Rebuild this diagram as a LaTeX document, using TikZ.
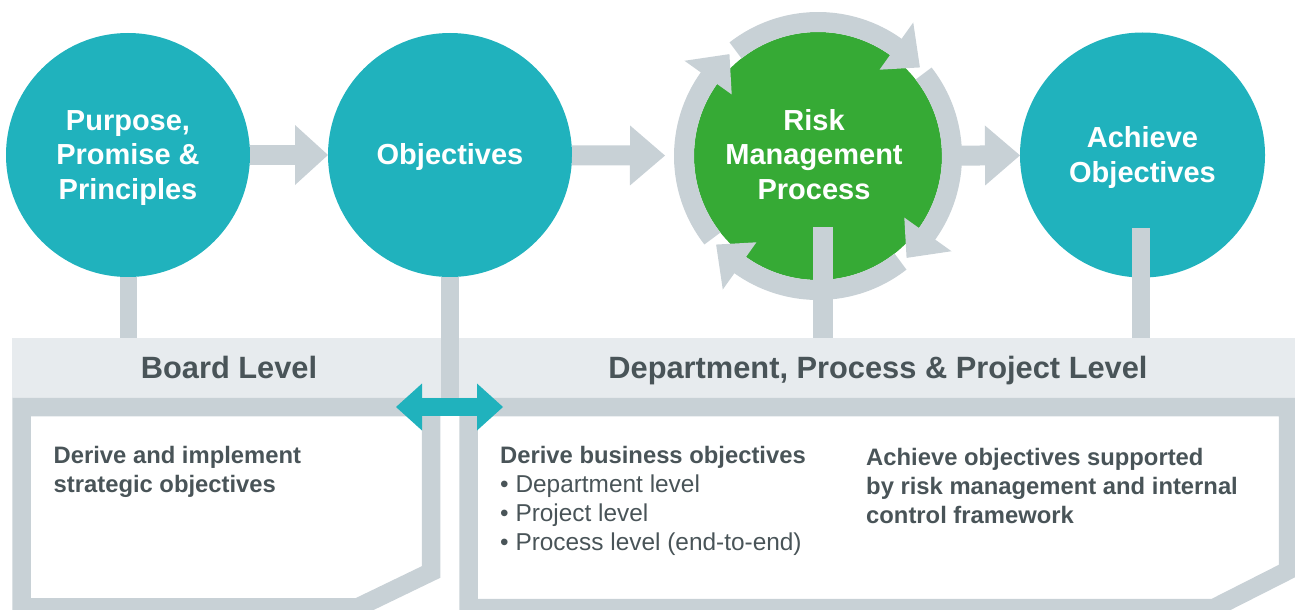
\documentclass[tikz,border=0pt]{standalone}
\usepackage{fontspec}
\setmainfont{Liberation Sans}
\usetikzlibrary{arrows.meta,calc}
\definecolor{tealc}{RGB}{32,178,189}
\definecolor{greenc}{RGB}{54,170,53}
\definecolor{grayc}{RGB}{200,209,214}
\definecolor{bandc}{RGB}{231,235,238}
\definecolor{textc}{RGB}{73,84,88}
\newcommand\mybulfont{\fontsize{24.4}{29}\selectfont}
\begin{document}
\begin{tikzpicture}[x=1pt,y=1pt,
  circ/.style={circle, minimum size=244pt, inner sep=0pt, outer sep=0pt, fill=tealc},
  circtext/.style={text=white, font=\bfseries\fontsize{29}{34.5}\selectfont, align=center, inner sep=0pt},
  conn/.style={grayc, line width=20pt, -{Triangle[length=33pt,width=60pt,line width=0pt]}},
  bar/.style={grayc, line width=18pt},
  framestyle/.style={grayc, line width=18.5pt, line join=miter},
  ringarc/.style={grayc, line width=20pt},
  bandlabel/.style={textc, font=\bfseries\fontsize{30.8}{36}\selectfont, anchor=base, inner sep=0pt},
  boxtext/.style={textc, font=\fontsize{23.8}{29}\selectfont, align=left, anchor=north west, inner sep=0pt},
]
\useasboundingbox (0,0) rectangle (1295,-610);

% band
\node[fill=bandc, anchor=north west, minimum width=1283pt, minimum height=60pt, inner sep=0pt, outer sep=0pt] (band) at (12,-338) {};

% frames
\draw[framestyle] (21.5,-407) -- (431,-407) -- (431,-572) -- (358,-607.25) -- (21.5,-607.25) -- cycle;
\draw[framestyle] (468.5,-407) -- (1288,-407) -- (1288,-570.5) -- (1214,-608) -- (468.5,-608) -- cycle;

% circles
\node[circ] (c1) at (128,-155) {};
\node[circ] (c2) at (450,-155) {};
\node[circ, fill=greenc, minimum size=248pt] (c3) at (818,-156) {};
\node[circ, minimum size=245pt] (c4) at (1142.5,-155) {};

% bars
\draw[bar, line width=17pt] (c1.south) -- (c1.south |- band.north);
\draw[bar] (c2.south) -- (c2.south |- band.south);
\draw[bar, line width=20pt] ($(c3.center)+(5,-71)$) coordinate (b3) -- (b3 |- band.north);
\draw[bar] ($(c4.center)+(-1.5,-73)$) coordinate (b4) -- (b4 |- band.north);

% cycle arrows
\foreach \b in {54,-36,-126,-216} {
  \draw[ringarc] ($(c3.center)+(\b+74:134)$) arc[start angle=\b+74, end angle=\b, radius=134];
  \fill[grayc] ($(c3.center)+(\b+0.5:106)$) -- ($(c3.center)+(\b+0.5:164)$) -- ($(c3.center)+(\b-13:135)$) -- cycle;
}

% circle texts
\node[circtext] (x1) at ($(c1.center)+(0,-3)$) {Purpose,\\Promise \&\\Principles};
\node[circtext] (x2) at ($(c2.center)+(0,-2)$) {Objectives};
\node[circtext] (x3) at ($(c3.center)+(-4,1.5)$) {Risk\\Management\\Process};
\node[circtext] (x4) at ($(c4.center)+(0,-2.5)$) {Achieve\\Objectives};

% connectors
\draw[conn] (c1) -- (c2);
\draw[conn, shorten >=29pt, -{Triangle[length=35pt,width=60pt,line width=0pt]}] (c2) -- (c3);
\draw[conn, -{Triangle[length=35pt,width=60pt,line width=0pt]}] (c3) -- (c4);

% double arrow
\coordinate (dl) at (396,-407);
\coordinate (dr) at (503,-407);
\draw[tealc, line width=18pt, {Triangle[length=26pt,width=47pt,line width=0pt]}-{Triangle[length=26pt,width=47pt,line width=0pt]}] (dl) -- (dr);

% labels
\node[bandlabel] (lb) at (229,-378) {Board Level};
\node[bandlabel] (ld) at (878,-378) {Department, Process \& Project Level};

\node[boxtext] (t1) at (53.5,-446) {\textbf{Derive and implement}\\\textbf{strategic objectives}};
\node[boxtext] (t2) at (500,-446) {\textbf{Derive business objectives}\\{\mybulfont\textbullet\ Department level}\\{\mybulfont\textbullet\ Project level}\\{\mybulfont\textbullet\ Process level (end-to-end)}};
\node[boxtext] (t3) at (866,-448) {\textbf{Achieve objectives supported}\\\textbf{by risk management and internal}\\\textbf{control framework}};
\end{tikzpicture}
\end{document}
